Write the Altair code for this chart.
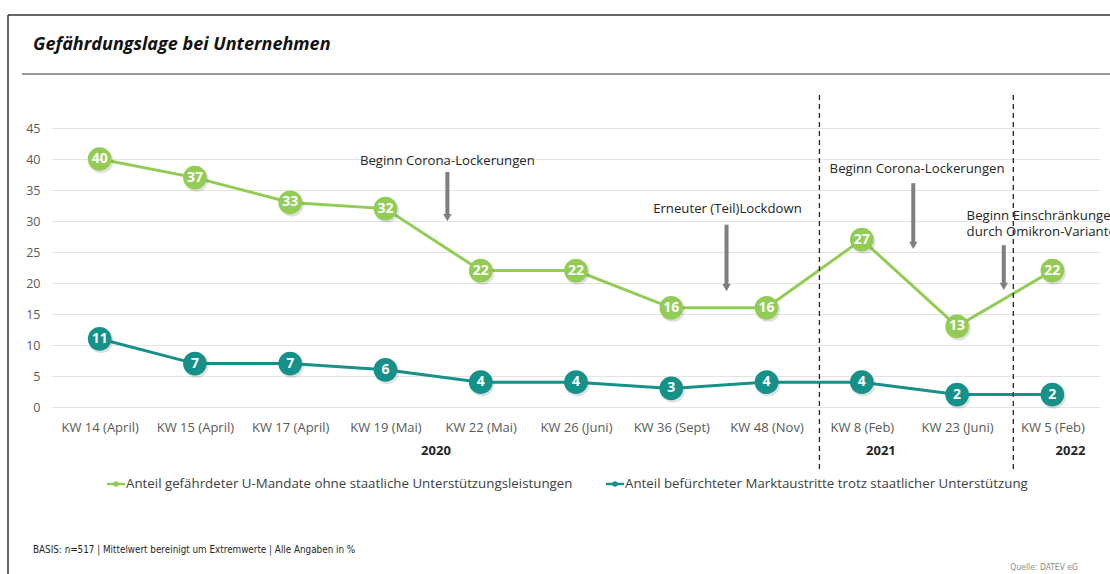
import altair as alt
import pandas as pd

# ---- data ----
categories = ["KW 14 (April)", "KW 15 (April)", "KW 17 (April)", "KW 19 (Mai)", "KW 22 (Mai)",
              "KW 26 (Juni)", "KW 36 (Sept)", "KW 48 (Nov)", "KW 8 (Feb)", "KW 23 (Juni)", "KW 5 (Feb)"]
green_vals = [40, 37, 33, 32, 22, 22, 16, 16, 27, 13, 22]
teal_vals = [11, 7, 7, 6, 4, 4, 3, 4, 4, 2, 2]
series_names = ["Anteil gefährdeter U-Mandate ohne staatliche Unterstützungsleistungen",
                "Anteil befürchteter Marktaustritte trotz staatlicher Unterstützung"]
y_ticks = [0, 5, 10, 15, 20, 25, 30, 35, 40, 45]

years = ["2020", "2021", "2022"]
year_pos = [3.53, 8.2, 10.19]
divider_pos = [7.555, 9.59]

ann_text = ["Beginn Corona-Lockerungen", "Erneuter (Teil)Lockdown", "Beginn Corona-Lockerungen",
            "Beginn Einschränkungen", "durch Omikron-Variante"]
ann_x = [3.65, 6.59, 8.58, 9.10, 9.10]
ann_y = [39.6, 32.0, 38.4, 30.8, 28.2]
ann_align = ["center", "center", "center", "left", "left"]

arrow_x = [3.65, 6.58, 8.54, 9.49]
arrow_top = [37.9, 29.4, 36.1, 26.1]
arrow_tip = [29.8, 18.5, 25.3, 18.7]

GREEN = "#7DC13A"
GREEN_LINE = "#92CC55"
TEAL = "#15918A"
GREY_TXT = "#595959"
FONT = "Open Sans"
NARROW = "DejaVu Sans Condensed, Liberation Sans Narrow, Open Sans, sans-serif"

W, H = 1048, 279

df = pd.DataFrame({
    "i": list(range(len(categories))) * 2,
    "v": green_vals + teal_vals,
    "s": [series_names[0]] * len(categories) + [series_names[1]] * len(categories),
})

label_expr = "[" + ",".join("'" + c + "'" for c in categories) + "][datum.value]"
xscale = alt.Scale(domain=[-0.5, len(categories) - 0.5], nice=False, zero=False)
yscale = alt.Scale(domain=[0, 45], nice=False)

xenc = alt.X("i:Q", scale=xscale,
             axis=alt.Axis(values=list(range(len(categories))), labelExpr=label_expr, title=None,
                           grid=False, domain=False, ticks=False, labelFont=FONT, labelFontSize=13,
                           labelColor=GREY_TXT, labelPadding=14, labelOverlap=False))
yenc = alt.Y("v:Q", scale=yscale,
             axis=alt.Axis(values=y_ticks, tickCount=10, title=None, grid=True, gridColor="#e3e3e3",
                           domain=False, ticks=False, labelFont=FONT, labelFontSize=12.5,
                           labelColor=GREY_TXT, labelPadding=12, labelOverlap=False))
color = alt.Color("s:N", scale=alt.Scale(domain=series_names, range=[GREEN, TEAL]), legend=None)
line_color = alt.Color("s:N", scale=alt.Scale(domain=series_names, range=[GREEN_LINE, TEAL]), legend=None)

base = alt.Chart(df)
lines = base.mark_line(strokeWidth=3).encode(x=xenc, y=yenc, color=line_color, detail="s:N")
shadow = base.mark_circle(size=600, opacity=0.18, color="#555").encode(
    x="i:Q", y="v:Q", xOffset=alt.value(1.5), yOffset=alt.value(2))
dots = base.mark_circle(size=560, opacity=1).encode(x="i:Q", y="v:Q", color=color)
labels = base.mark_text(color="white", fontWeight="bold", font=FONT, fontSize=14).encode(
    x="i:Q", y="v:Q", text="v:Q")

# dividers
div_df = pd.DataFrame({"x": divider_pos})
dividers = alt.Chart(div_df).mark_rule(color="#222", strokeDash=[5, 4], strokeWidth=1.3).encode(
    x="x:Q", y=alt.value(-33), y2=alt.value(H + 63))

# year labels
yr_df = pd.DataFrame({"x": year_pos, "t": years})
yr = alt.Chart(yr_df).mark_text(fontWeight="bold", font=FONT, fontSize=13, color="#262626").encode(
    x="x:Q", y=alt.value(H + 44), text="t:N")

# annotations
ann_df = pd.DataFrame({"x": ann_x, "y": ann_y, "t": ann_text, "a": ann_align})
ann_c = alt.Chart(ann_df[ann_df.a == "center"]).mark_text(
    font=FONT, fontSize=13.2, color="#262626", align="center").encode(x="x:Q", y="y:Q", text="t:N")
ann_l = alt.Chart(ann_df[ann_df.a == "left"]).mark_text(
    font=FONT, fontSize=13.2, color="#262626", align="left").encode(x="x:Q", y="y:Q", text="t:N")

arr_df = pd.DataFrame({"x": arrow_x, "top": arrow_top, "tip": arrow_tip})
arr_df["shaft_end"] = arr_df["tip"] + 1.3
arr_df["head"] = arr_df["tip"] + 0.75
shafts = alt.Chart(arr_df).mark_rule(color="#7f7f7f", strokeWidth=4).encode(
    x="x:Q", y="top:Q", y2="shaft_end:Q")
heads = alt.Chart(arr_df).mark_point(shape="triangle-down", filled=True, color="#7f7f7f",
                                     size=70, opacity=1).encode(x="x:Q", y="head:Q")

# frame, title, header rule
frame_top = alt.Chart(pd.DataFrame({"k": [0]})).mark_rule(color="#333", strokeWidth=1.5).encode(
    x=alt.value(-44), x2=alt.value(W + 20), y=alt.value(-113))
frame_left = alt.Chart(pd.DataFrame({"k": [0]})).mark_rule(color="#333", strokeWidth=1.5).encode(
    x=alt.value(-44), y=alt.value(-113), y2=alt.value(H + 200))
head_rule = alt.Chart(pd.DataFrame({"k": [0]})).mark_rule(color="#333", strokeWidth=1).encode(
    x=alt.value(-30), x2=alt.value(W + 20), y=alt.value(-54))
title = alt.Chart(pd.DataFrame({"t": ["Gefährdungslage bei Unternehmen"]})).mark_text(
    font=FONT, fontSize=18, fontStyle="italic", fontWeight="bold", color="#111", align="left",
    baseline="middle").encode(x=alt.value(-19), y=alt.value(-83), text="t:N")

# legend
leg_x = [55, 554]
leg_df = pd.DataFrame({"s": series_names, "x": leg_x})
leg_df["x2"] = leg_df["x"] + 18
leg_df["xm"] = leg_df["x"] + 9
leg_df["xt"] = leg_df["x"] + 19
leg_lines = alt.Chart(leg_df).mark_rule(strokeWidth=2.5).encode(
    x=alt.X("x:Q", scale=None), x2="x2:Q", y=alt.value(H + 77), color=color)
leg_dots = alt.Chart(leg_df).mark_circle(size=30, opacity=1).encode(
    x=alt.X("xm:Q", scale=None), y=alt.value(H + 77), color=color)
leg_text = alt.Chart(leg_df).mark_text(font=FONT, fontSize=13.3, color="#404040", align="left",
                                       baseline="middle").encode(
    x=alt.X("xt:Q", scale=None), y=alt.value(H + 77), text="s:N")

footer = alt.Chart(pd.DataFrame({"t": ["BASIS: n=517 | Mittelwert bereinigt um Extremwerte | Alle Angaben in %"]})).mark_text(
    font=NARROW, fontSize=9.8, color="#262626", align="left", baseline="middle").encode(
    x=alt.value(-19), y=alt.value(H + 143), text="t:N")
source = alt.Chart(pd.DataFrame({"t": ["Quelle: DATEV eG"]})).mark_text(
    font=NARROW, fontSize=8.5, color="#8c8c8c", align="right", baseline="middle").encode(
    x=alt.value(W - 22), y=alt.value(H + 160), text="t:N")

chart = alt.layer(
    lines, shadow, dots, labels, dividers, yr, ann_c, ann_l, shafts, heads,
    frame_top, frame_left, head_rule, title, leg_lines, leg_dots, leg_text, footer, source
).properties(
    width=W, height=H,
    autosize=alt.AutoSizeParams(type="none"),
    padding={"left": 52, "top": 128, "right": 10, "bottom": 167},
    background="white",
).configure_view(stroke=None, clip=False)

chart.save("out.html", embed_options={"renderer": "svg", "actions": False})
